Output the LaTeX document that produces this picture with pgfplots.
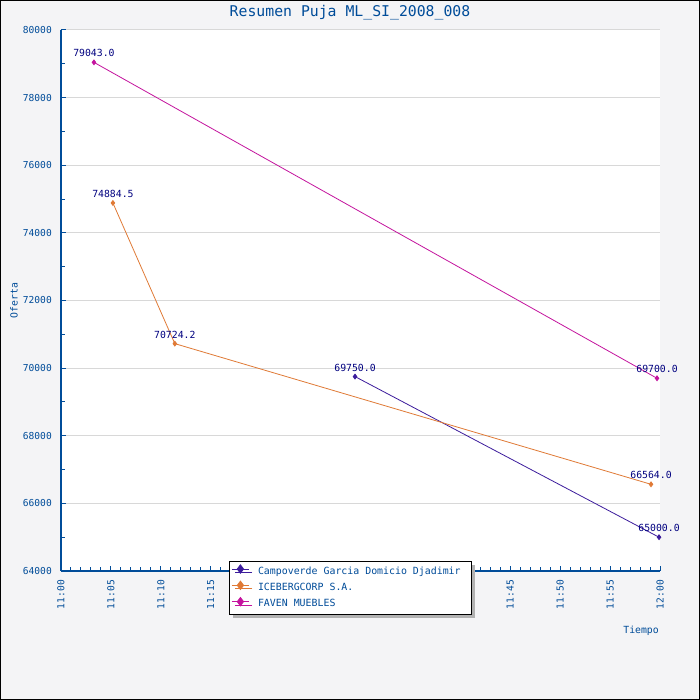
\documentclass[border=0pt]{standalone}
\usepackage{pgfplots}
\pgfplotsset{compat=1.18}
\usepackage{fontspec}
\setmainfont{DejaVu Sans Mono}
\usetikzlibrary{shadows}
\definecolor{bg}{HTML}{F4F4F6}
\definecolor{axblue}{HTML}{004C99}
\definecolor{gridc}{HTML}{D8D8D8}
\definecolor{campo}{HTML}{3C1C9C}
\definecolor{ice}{HTML}{E07A36}
\definecolor{faven}{HTML}{C4149E}
\definecolor{lab}{HTML}{000080}
\begin{document}
\begin{tikzpicture}
\useasboundingbox (0,0) rectangle (700bp,700bp);
\fill[bg] (0,0) rectangle (700bp,700bp);
\draw[black,line width=1.2bp] (0.6bp,0.6bp) rectangle (699.4bp,699.4bp);
\begin{axis}[
  at={(61bp,129bp)}, anchor=south west,
  scale only axis, width=599bp, height=541bp,
  xmin=0, xmax=60, ymin=64000, ymax=80000,
  clip=false,
  axis background/.style={fill=white},
  axis lines=left, axis line style={-, axblue, line width=1.4bp},
  xtick={0,5,...,60},
  xticklabels={11:00,11:05,11:10,11:15,11:20,11:25,11:30,11:35,11:40,11:45,11:50,11:55,12:00},
  minor x tick num=4,
  ytick={64000,66000,...,80000},
  minor y tick num=1,
  scaled y ticks=false,
  yticklabel={\pgfmathprintnumber[fixed,precision=0,1000 sep={}]{\tick}},
  tick align=inside,
  major tick length=5bp, minor tick length=3.5bp,
  tick style={axblue, line width=1bp},
  ymajorgrids, major grid style={gridc, line width=1bp},
  /pgf/number format/assume math mode=true,
  /pgf/number format/1000 sep={},
  tick label style={font=\fontsize{9.6bp}{11bp}\selectfont, text=axblue, inner sep=0pt},
  xticklabel style={rotate=90, anchor=east},
  xticklabel shift=9bp,
  yticklabel shift=9bp,
  title={Resumen Puja ML\_SI\_2008\_008},
  every axis title/.style={at={(axis description cs:0.4825,1.0324)}, anchor=center, inner sep=0pt,
    font=\fontsize{14.8bp}{16bp}\selectfont, text=axblue},
  xlabel={Tiempo},
  every axis x label/.style={at={(axis description cs:0.9983,-0.111)}, anchor=east, inner sep=0pt,
    font=\fontsize{9.8bp}{11bp}\selectfont, text=axblue},
  ylabel={Oferta},
  every axis y label/.style={at={(axis description cs:-0.0785,0.5)}, rotate=90, anchor=center, inner sep=0pt,
    font=\fontsize{9.8bp}{11bp}\selectfont, text=axblue},
  nodes near coords={\pgfmathprintnumber[fixed,fixed zerofill,precision=1,1000 sep={}]{\pgfplotspointmeta}},
  every node near coord/.append style={font=\fontsize{9.8bp}{11bp}\selectfont, text=lab, anchor=south, inner sep=0pt, yshift=5bp},
  legend style={at={(axis description cs:0.2805,0.0185)}, anchor=north west,
    draw=black, line width=1bp, fill=white,
    drop shadow={shadow xshift=3.5bp, shadow yshift=-3.5bp, fill=black!30, opacity=1},
    font=\fontsize{9.9bp}{11bp}\selectfont, text=axblue,
    inner xsep=2bp, inner ysep=2bp, row sep=0bp, column sep=8.7bp,
    nodes={inner xsep=0bp, inner ysep=3.2bp, text height=7.4bp, text depth=2.5bp}},
  legend cell align=left,
  legend image code/.code={\draw[mark repeat=2,mark phase=2,#1,mark size=4.2bp, yshift=2.6bp] plot coordinates {(0bp,0bp) (8.5bp,0bp) (17bp,0bp)};},
]
\addplot[campo, line width=0.8bp, mark=diamond*, mark size=2.4bp] coordinates {
  (29.45,69750) (59.9,65000)};
\addlegendentry{Campoverde Garcia Domicio Djadimir\rule{9bp}{0pt}}
\addplot[ice, line width=0.8bp, mark=diamond*, mark size=2.4bp] coordinates {
  (5.2,74884.5) (11.4,70724.2) (59.1,66564)};
\addlegendentry{ICEBERGCORP S.A.}
\addplot[faven, line width=0.8bp, mark=diamond*, mark size=2.4bp] coordinates {
  (3.3,79043) (59.7,69700)};
\addlegendentry{FAVEN MUEBLES}
\end{axis}
\end{tikzpicture}
\end{document}
